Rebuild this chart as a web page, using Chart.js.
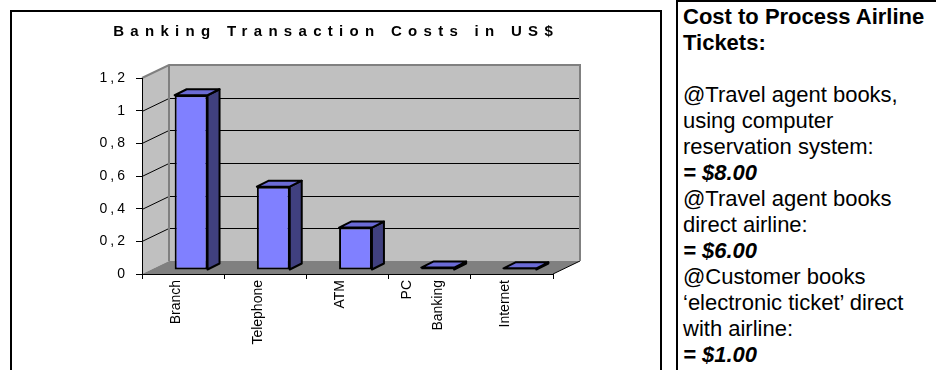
<!DOCTYPE html>
<html>
<head>
<meta charset="utf-8">
<script src="https://cdn.jsdelivr.net/npm/chart.js@4.4.0/dist/chart.umd.min.js"></script>
<style>
  body { margin: 0; background: #fff; width: 936px; height: 370px; overflow: hidden; position: relative;
         font-family: "Liberation Sans", Arial, sans-serif; color: #000; }
  #chartFrame { position: absolute; left: 10px; top: 10px; width: 648px; height: 370px;
                border: 2px solid #000; border-bottom: none; }
  #costChart { position: absolute; left: 0; top: 0; }
  #notes { position: absolute; left: 676px; top: 0; width: 300px; height: 370px;
           border-left: 2px solid #000; border-top: 2px solid #000; padding: 2px 0 0 5px;
           font-size: 22px; line-height: 26px; white-space: nowrap; }
</style>
</head>
<body>
<div id="chartFrame"></div>
<canvas id="costChart" width="660" height="370"></canvas>
<div id="notes">
  <b>Cost to Process Airline</b><br>
  <b>Tickets:</b><br>
  <br>
  @Travel agent books,<br>
  using computer<br>
  reservation system:<br>
  <b><i>= $8.00</i></b><br>
  @Travel agent books<br>
  direct airline:<br>
  <b><i>= $6.00</i></b><br>
  @Customer books<br>
  ‘electronic ticket’ direct<br>
  with airline:<br>
  <b><i>= $1.00</i></b>
</div>
<script>
/* Data */
const categories = ['Branch', 'Telephone', 'ATM', ['PC', 'Banking'], 'Internet'];
const costs = [1.07, 0.51, 0.26, 0.015, 0.01];
const yTickLabels = ['0', '0,2', '0,4', '0,6', '0,8', '1', '1,2'];
const chartTitle = 'Banking Transaction Costs in US$';

const FONT = '"Liberation Sans", Arial, sans-serif';
Chart.defaults.font.family = FONT;
Chart.defaults.color = '#000';

// fake 3D: walls recede up-right, bars sit a little behind the axis plane
const WALL_DEPTH = { x: 27, y: -13 };
const BAR_OFFSET = { x: 8, y: -4 };
const BAR_DEPTH = { x: 12, y: -6 };

function poly(ctx, pts, fill, stroke, width) {
    ctx.beginPath();
    pts.forEach(([x, y], i) => i ? ctx.lineTo(x, y) : ctx.moveTo(x, y));
    ctx.closePath();
    if (fill) { ctx.fillStyle = fill; ctx.fill(); }
    if (stroke) { ctx.strokeStyle = stroke; ctx.lineWidth = width || 1; ctx.stroke(); }
}

function line(ctx, pts, color, width) {
    ctx.beginPath();
    pts.forEach(([x, y], i) => i ? ctx.lineTo(x, y) : ctx.moveTo(x, y));
    ctx.strokeStyle = color;
    ctx.lineWidth = width;
    ctx.stroke();
}

const box3d = {
    id: 'box3d',
    beforeDraw(chart) {
        const { ctx, chartArea: a, scales: { x, y } } = chart;
        const dx = WALL_DEPTH.x, dy = WALL_DEPTH.y;
        ctx.save();
        // side wall + back wall
        poly(ctx, [[a.left, a.top], [a.left + dx, a.top + dy], [a.left + dx, a.bottom + dy], [a.left, a.bottom]], '#c0c0c0');
        poly(ctx, [[a.left + dx, a.top + dy], [a.right + dx, a.top + dy], [a.right + dx, a.bottom + dy], [a.left + dx, a.bottom + dy]], '#c0c0c0');
        // gridlines go up the side wall and across the back
        y.ticks.forEach(t => {
            if (t.value <= y.min || t.value >= y.max) return;
            const py = Math.round(y.getPixelForValue(t.value)) + 0.5;
            line(ctx, [[a.left, py], [a.left + dx, py + dy], [a.right + dx, py + dy]], '#000', 1);
        });
        // floor
        poly(ctx, [[a.left, a.bottom], [a.right, a.bottom], [a.right + dx, a.bottom + dy], [a.left + dx, a.bottom + dy]], '#808080');
        line(ctx, [[a.right, a.bottom], [a.right + dx, a.bottom + dy]], '#000', 1);
        // wall outline
        line(ctx, [[a.left, a.top], [a.left + dx, a.top + dy], [a.right + dx, a.top + dy], [a.right + dx, a.bottom + dy]], '#808080', 2);
        line(ctx, [[a.left + dx, a.top + dy], [a.left + dx, a.bottom + dy]], '#808080', 2);
        ctx.restore();

        // centre two-line category labels on their tick
        x.getLabelItems().forEach(item => {
            if (Array.isArray(item.label) && !item.centred) {
                item.options.translation[0] -= (item.label.length - 1) * item.font.lineHeight / 2;
                item.centred = true;
            }
        });

        // value axis labels are letter-spaced
        ctx.letterSpacing = '3px';
    },
    beforeDatasetsDraw(chart) {
        const { ctx } = chart;
        ctx.letterSpacing = '0px';
        ctx.save();
        ctx.translate(BAR_OFFSET.x, BAR_OFFSET.y);
    },
    afterDatasetsDraw(chart) {
        const { ctx } = chart;
        const bx = BAR_DEPTH.x, by = BAR_DEPTH.y;
        ctx.lineJoin = 'round';
        chart.getDatasetMeta(0).data.forEach(bar => {
            const { x, y, base, width } = bar.getProps(['x', 'y', 'base', 'width'], true);
            const l = x - width / 2, r = x + width / 2;
            const t = Math.min(y, base), b = Math.max(y, base);
            poly(ctx, [[r, t], [r + bx, t + by], [r + bx, b + by], [r, b]], '#40407f', '#000', 2);
            poly(ctx, [[l, t], [l + bx, t + by], [r + bx, t + by], [r, t]], '#6b6bd6', '#000', 2);
        });
        ctx.restore();
    },
    afterDraw(chart) {
        const { ctx } = chart;
        const spacing = 6.3;
        ctx.save();
        ctx.font = `bold 15px ${FONT}`;
        ctx.letterSpacing = spacing + 'px';
        ctx.fillStyle = '#000';
        ctx.textBaseline = 'alphabetic';
        const w = ctx.measureText(chartTitle).width - spacing;
        ctx.fillText(chartTitle, 333 - w / 2, 36);
        ctx.restore();
    }
};

/* Create chart */
const costChart = new Chart('costChart', {
    type: 'bar',
    data: {
        labels: categories,
        datasets: [{
            label: 'Cost (US$)',
            data: costs,
            backgroundColor: '#8080ff',
            borderColor: '#000',
            borderWidth: 2,
            borderSkipped: false,
            categoryPercentage: 1,
            barPercentage: 0.4,
            clip: false
        }]
    },
    plugins: [box3d],
    options: {
        responsive: false,
        animation: false,
        devicePixelRatio: 1,
        layout: { padding: { top: 78, right: 107, left: 0, bottom: 0 } },
        scales: {
            x: {
                afterFit: s => { s.height = 96; },
                ticks: {
                    autoSkip: false,
                    maxRotation: 90,
                    minRotation: 90,
                    padding: 1,
                    labelOffset: -7,
                    z: 1,
                    font: { size: 14, lineHeight: 2.2 }
                },
                grid: { drawOnChartArea: false, tickLength: 5, color: '#000' },
                border: { color: '#000' }
            },
            y: {
                min: 0,
                max: 1.2,
                afterFit: s => { s.width = 142; },
                ticks: {
                    stepSize: 0.2,
                    padding: 8,
                    font: { size: 14 },
                    callback: (v, i) => yTickLabels[i]
                },
                grid: { drawOnChartArea: false, tickLength: 6, color: '#000' },
                border: { color: '#000' }
            }
        },
        plugins: {
            legend: { display: false },
            title: { display: false },
            tooltip: { enabled: false }
        }
    }
});
</script>
</body>
</html>
